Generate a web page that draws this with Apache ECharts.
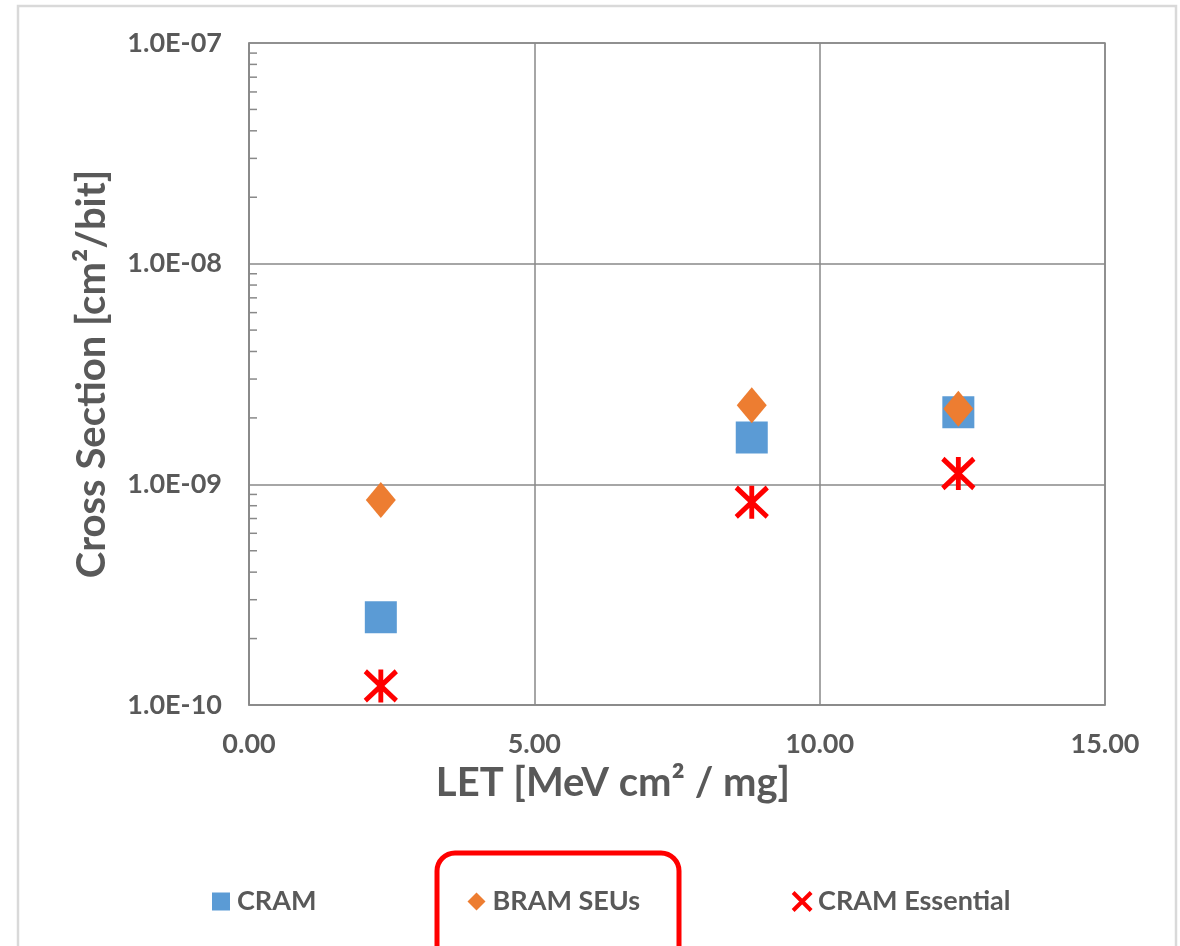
<!DOCTYPE html>
<html>
<head>
<meta charset="utf-8">
<script src="https://cdn.jsdelivr.net/npm/echarts@6/dist/echarts.min.js"></script>
<style>html,body{margin:0;padding:0;background:#fff;}#c{width:1180px;height:946px;}</style>
</head>
<body>
<div id="c"></div>
<script>
const let_values = [2.31, 8.81, 12.43];
const cram = [2.5e-10, 1.63e-9, 2.12e-9];
const bramSEUs = [8.5e-10, 2.28e-9, 2.2e-9];
const cramEssential = [1.22e-10, 8.3e-10, 1.12e-9];
const seriesNames = ['CRAM', 'BRAM SEUs', 'CRAM Essential'];
const xTicks = [0, 5, 10, 15];
const yDecades = [1e-10, 1e-9, 1e-8, 1e-7];

const minorTicks = [];
for (let d = 0; d < yDecades.length - 1; d++) {
  for (let m = 2; m <= 9; m++) minorTicks.push(m * yDecades[d]);
}

const textColor = '#595959';
const gridColor = '#898989';
const fontFam = 'Lato, "Open Sans", sans-serif';
const starPath = 'path://M0,0L10,10M10,0L0,10M5,-0.6L5,10.6';
const xPath = 'path://M0,0L10,10M10,0L0,10';

function pairs(ys) { return let_values.map((x, i) => [x, ys[i]]); }
function fmtE(v) {
  const e = Math.round(Math.log10(v));
  const exp = (e < 0 ? '-' : '+') + String(Math.abs(e)).padStart(2, '0');
  return '1.0E' + exp;
}

const chart = echarts.init(document.getElementById('c'), null, {renderer: 'canvas'});
chart.setOption({
  animation: false,
  backgroundColor: '#fff',
  grid: {left: 249, right: 75, top: 43, bottom: 241, show: true, borderColor: gridColor, borderWidth: 1.5},
  xAxis: {
    type: 'value', min: xTicks[0], max: xTicks[xTicks.length - 1], interval: 5,
    axisLine: {show: true, lineStyle: {color: gridColor, width: 1.5}},
    axisTick: {show: false},
    splitLine: {show: true, lineStyle: {color: gridColor, width: 1.5}},
    axisLabel: {color: textColor, fontFamily: fontFam, fontWeight: 'bold', fontSize: 27, margin: 26,
      formatter: v => v.toFixed(2)},
    name: 'LET [MeV cm² / mg]', nameLocation: 'middle', nameGap: 52,
    nameTextStyle: {color: textColor, fontFamily: fontFam, fontWeight: 'bold', fontSize: 40, padding: [0, 128, 0, 0]}
  },
  yAxis: {
    type: 'log', logBase: 10, min: yDecades[0], max: yDecades[yDecades.length - 1],
    axisLine: {show: true, lineStyle: {color: gridColor, width: 1.5}},
    axisTick: {show: false},
    splitLine: {show: true, lineStyle: {color: gridColor, width: 1.5}},
    axisLabel: {color: textColor, fontFamily: fontFam, fontWeight: 'bold', fontSize: 27, margin: 27,
      formatter: v => fmtE(v)},
    name: 'Cross Section [cm²/bit]', nameLocation: 'middle', nameGap: 137,
    nameTextStyle: {color: textColor, fontFamily: fontFam, fontWeight: 'bold', fontSize: 40}
  },
  legend: {
    left: 207, top: 883, itemGap: 151, itemWidth: 18, itemHeight: 18,
    textStyle: {color: textColor, fontFamily: fontFam, fontWeight: 'bold', fontSize: 27, padding: [0, 0, 0, 2]},
    data: [
      {name: seriesNames[0], icon: 'rect'},
      {name: seriesNames[1], icon: 'diamond', itemStyle: {borderWidth: 0}},
      {name: seriesNames[2], icon: xPath, itemStyle: {color: '#ff0000', borderColor: '#ff0000', borderWidth: 4}}
    ]
  },
  series: [
    {type: 'custom', silent: true, z: 1, data: minorTicks.map(v => [0, v]),
      renderItem: function (params, api) {
        const p = api.coord([0, api.value(1)]);
        const x0 = params.coordSys.x;
        return {type: 'line', shape: {x1: x0, y1: p[1], x2: x0 + 8, y2: p[1]},
          style: {stroke: gridColor, lineWidth: 1.5}};
      }},
    {name: seriesNames[0], type: 'scatter', data: pairs(cram), symbol: 'rect', symbolSize: 32,
      itemStyle: {color: '#5b9bd5', opacity: 1}, z: 3},
    {name: seriesNames[1], type: 'scatter', data: pairs(bramSEUs), symbol: 'diamond', symbolSize: [30, 36],
      itemStyle: {color: '#ed7d31', opacity: 1}, z: 4},
    {name: seriesNames[2], type: 'scatter', data: pairs(cramEssential), symbol: starPath, symbolSize: [31, 33],
      itemStyle: {color: '#ff0000', borderColor: '#ff0000', borderWidth: 5, opacity: 1}, z: 5}
  ],
  graphic: [
    {type: 'rect', silent: true, shape: {x: 18, y: 6, width: 1158, height: 960},
      style: {fill: 'none', stroke: '#d9d9d9', lineWidth: 2.5}},
    {type: 'rect', silent: true, shape: {x: 437, y: 853, width: 242, height: 120, r: 18},
      style: {fill: 'none', stroke: '#ff0000', lineWidth: 5}}
  ]
});
</script>
</body>
</html>
